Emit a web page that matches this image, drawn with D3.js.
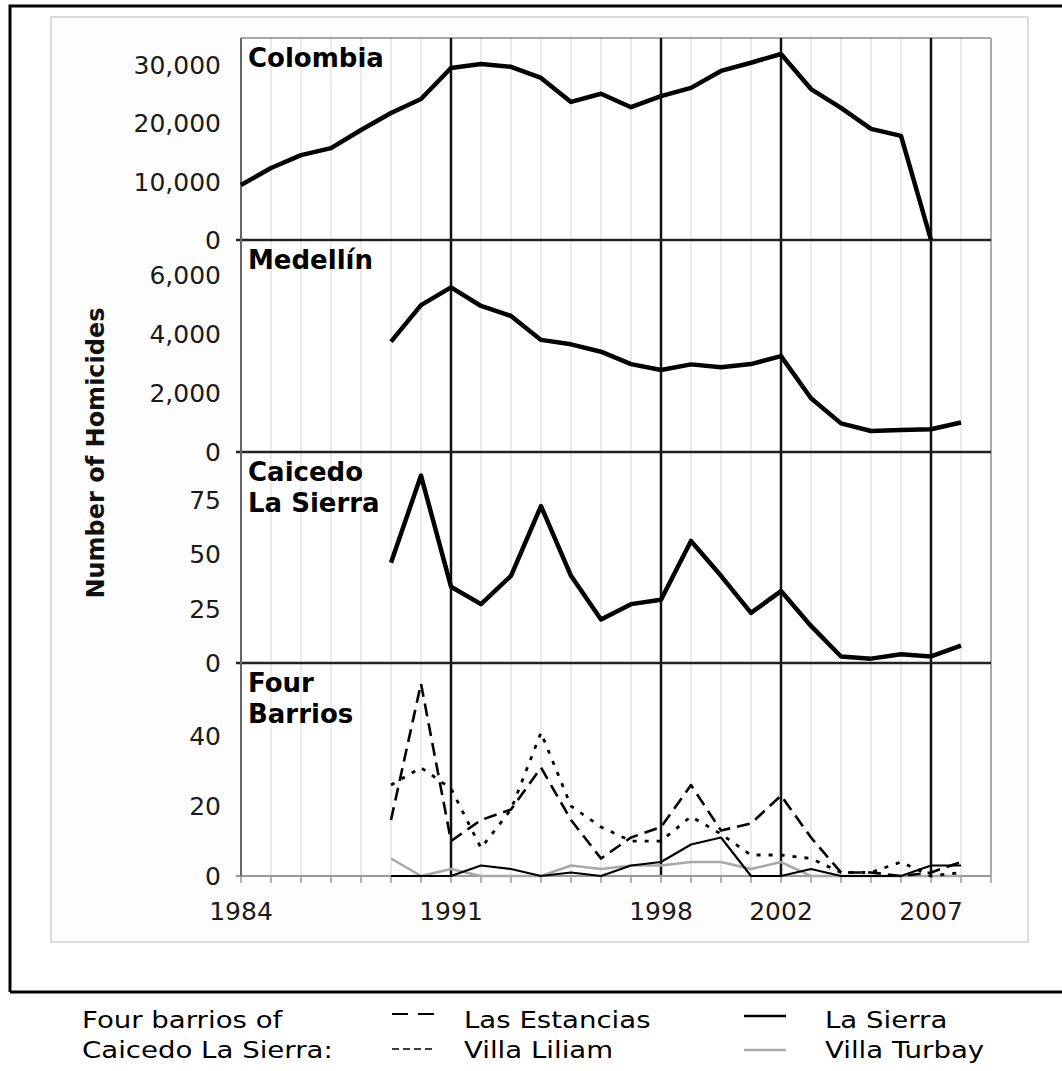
<!DOCTYPE html>
<html><head><meta charset="utf-8">
<script src="https://cdn.jsdelivr.net/npm/d3@7"></script>
<style>
html,body{margin:0;padding:0;background:#fff;}
svg{display:block;}
text{font-family:"DejaVu Sans",Verdana,sans-serif;}
</style></head>
<body>
<svg id="c" width="1062" height="1071"></svg>
<script>
// ---------- DATA ----------
const colombiaYears = [1984,1985,1986,1987,1988,1989,1990,1991,1992,1993,1994,1995,1996,1997,1998,1999,2000,2001,2002,2003,2004,2005,2006,2007];
const colombia = [9400,12300,14500,15700,18800,21700,24100,29400,30100,29600,27700,23600,25000,22700,24600,26000,28900,30300,31800,25800,22600,19000,17800,0];

const localYears = [1989,1990,1991,1992,1993,1994,1995,1996,1997,1998,1999,2000,2001,2002,2003,2004,2005,2006,2007,2008];
const medellin = [3740,4980,5580,4950,4610,3800,3650,3400,2980,2780,2970,2870,2980,3250,1820,970,710,745,770,1000];
const caicedo = [46,86,35,27,40,72,40,20,27,29,56,40,23,33,17,3,2,4,3,8];
const lasEstancias = [16,55,10,16,19,31,16,5,11,14,26,13,15,23,11,1,1,0,1,4];
const villaLiliam = [26,31,25,8,19,41,20,14,10,10,17,12,6,6,5,1,1,4,0,1];
const laSierra = [0,0,0,3,2,0,1,0,3,4,9,11,0,0,2,0,0,0,3,3];
const villaTurbay = [5,0,2,0,0,0,3,2,3,3,4,4,2,4,0,0,0,0,0,0];

const colombiaTicks = [0,10000,20000,30000];
const medellinTicks = [0,2000,4000,6000];
const caicedoTicks = [0,25,50,75];
const barriosTicks = [0,20,40];
const yearLabels = [1984,1991,1998,2002,2007];
const markerYears = [1991,1998,2002,2007];
const gridYears = [1985,1986,1987,1988,1989,1990,1992,1993,1994,1995,1996,1997,1999,2000,2001,2003,2004,2005,2006,2008];
const tickYears = [1984,1985,1986,1987,1988,1989,1990,1991,1992,1993,1994,1995,1996,1997,1998,1999,2000,2001,2002,2003,2004,2005,2006,2007,2008,2009];

// ---------- LAYOUT ----------
const svg = d3.select("#c");
const L = 241, R = 991, TOP = 38, BOT = 876;
const x = d3.scaleLinear().domain([1984, 2009]).range([L, R]);
const fmt = d3.format(",");

// outer frame
svg.append("rect").attr("x",0).attr("y",0).attr("width",1062).attr("height",1071).attr("fill","#fff");
svg.append("path").attr("d","M10,992 V6 H1062").attr("fill","none").attr("stroke","#000").attr("stroke-width",3);
svg.append("line").attr("x1",10).attr("x2",1062).attr("y1",992).attr("y2",992).attr("stroke","#000").attr("stroke-width",3);
// inner gray box
svg.append("rect").attr("x",51).attr("y",17).attr("width",977).attr("height",925)
  .attr("fill","#fdfdfd").attr("stroke","#cfcfcf").attr("stroke-width",1.5);
svg.append("rect").attr("x",L).attr("y",TOP).attr("width",R-L).attr("height",BOT-TOP).attr("fill","#fff");

// light vertical gridlines
svg.append("g").selectAll("line").data(gridYears).join("line")
  .attr("x1",d=>x(d)).attr("x2",d=>x(d)).attr("y1",TOP).attr("y2",BOT)
  .attr("stroke","#e4e4e4").attr("stroke-width",1.5);

const panels = [
  {title:["Colombia"], years:colombiaYears, values:colombia, max:34530, ticks:colombiaTicks, top:38, bottom:240},
  {title:["Medellín"], years:localYears, values:medellin, max:7186, ticks:medellinTicks, top:240, bottom:452},
  {title:["Caicedo","La Sierra"], years:localYears, values:caicedo, max:96.8, ticks:caicedoTicks, top:452, bottom:663},
  {title:["Four","Barrios"], years:localYears, values:null, max:60.9, ticks:barriosTicks, top:663, bottom:876}
];

// frame lines
svg.append("line").attr("x1",L).attr("x2",R).attr("y1",TOP).attr("y2",TOP).attr("stroke","#8a8a8a").attr("stroke-width",1.5);
svg.append("line").attr("x1",R).attr("x2",R).attr("y1",TOP).attr("y2",BOT).attr("stroke","#aaa").attr("stroke-width",2);

// black marker verticals
svg.append("g").selectAll("line").data(markerYears).join("line")
  .attr("x1",d=>x(d)).attr("x2",d=>x(d)).attr("y1",TOP).attr("y2",BOT)
  .attr("stroke","#111").attr("stroke-width",2.5);

// separators
[240,452,663].forEach(yy=>{
  svg.append("line").attr("x1",L-5).attr("x2",R).attr("y1",yy).attr("y2",yy).attr("stroke","#222").attr("stroke-width",2.5);
});
// bottom axis
svg.append("line").attr("x1",L-5).attr("x2",R).attr("y1",BOT).attr("y2",BOT).attr("stroke","#999").attr("stroke-width",2);
svg.append("g").selectAll("line").data(tickYears).join("line")
  .attr("x1",d=>x(d)).attr("x2",d=>x(d)).attr("y1",BOT).attr("y2",BOT+7)
  .attr("stroke","#999").attr("stroke-width",1.5);
// left axis
svg.append("line").attr("x1",L).attr("x2",L).attr("y1",TOP).attr("y2",BOT).attr("stroke","#666").attr("stroke-width",2);

panels.forEach((p,i)=>{
  const y = d3.scaleLinear().domain([0,p.max]).range([p.bottom,p.top]);
  p.y = y;
  // tick labels
  svg.append("g").selectAll("text").data(p.ticks).join("text")
    .attr("x",221).attr("y",d=>y(d)).attr("dy","0.36em")
    .attr("text-anchor","end").attr("font-size",25).attr("fill","#1a1a1a")
    .text(d=>fmt(d));
  // title
  const t = svg.append("text").attr("x",248).attr("y",p.top+29)
    .attr("font-size",26).attr("font-weight","bold").attr("fill","#000");
  p.title.forEach((s,k)=>t.append("tspan").attr("x",248).attr("dy",k?31:0).text(s));
  if (p.values) {
    const line = d3.line().x((d,j)=>x(p.years[j])).y(d=>y(d));
    svg.append("path").datum(p.values).attr("d",line)
      .attr("fill","none").attr("stroke","#000").attr("stroke-width",4.5)
      .attr("stroke-linejoin","round");
  }
});

// four barrios
const yb = panels[3].y;
const barrioSeries = [
  {name:"Villa Turbay", values:villaTurbay, color:"#a8a8a8", dash:null, w:2.5},
  {name:"La Sierra", values:laSierra, color:"#000", dash:null, w:2.2},
  {name:"Villa Liliam", values:villaLiliam, color:"#000", dash:"4,8", w:2.8},
  {name:"Las Estancias", values:lasEstancias, color:"#000", dash:"13,7", w:2.6}
];
const bline = d3.line().x((d,j)=>x(localYears[j])).y(d=>yb(d));
barrioSeries.forEach(s=>{
  svg.append("path").datum(s.values).attr("d",bline)
    .attr("fill","none").attr("stroke",s.color).attr("stroke-width",s.w)
    .attr("stroke-dasharray",s.dash).attr("stroke-linejoin","round");
});

// year labels
svg.append("g").selectAll("text").data(yearLabels).join("text")
  .attr("x",d=>x(d)).attr("y",911).attr("dy","0.36em").attr("text-anchor","middle")
  .attr("font-size",25).attr("fill","#1a1a1a").text(d=>d);

// y-axis title
svg.append("text").attr("transform","translate(104,453) rotate(-90)")
  .attr("text-anchor","middle").attr("font-size",24).attr("font-weight","bold").attr("fill","#111")
  .text("Number of Homicides");

// legend
const lg = svg.append("g").attr("font-size",23).attr("fill","#000");
function ltext(xx, yy, s){
  lg.append("text").attr("transform",`translate(${xx},${yy}) scale(1.2,1)`).text(s);
}
ltext(82,1028,"Four barrios of");
ltext(82,1058,"Caicedo La Sierra:");
ltext(464,1028,"Las Estancias");
ltext(464,1058,"Villa Liliam");
ltext(825,1028,"La Sierra");
ltext(825,1058,"Villa Turbay");
const keys = [
  {x1:392,x2:434,y:1014,color:"#000",dash:"16,10",w:2},
  {x1:392,x2:434,y:1049,color:"#000",dash:"7,4",w:1.5},
  {x1:744,x2:786,y:1016,color:"#000",dash:null,w:2.5},
  {x1:744,x2:786,y:1050,color:"#aaa",dash:null,w:2.5}
];
svg.append("g").selectAll("line").data(keys).join("line")
  .attr("x1",d=>d.x1).attr("x2",d=>d.x2).attr("y1",d=>d.y).attr("y2",d=>d.y)
  .attr("stroke",d=>d.color).attr("stroke-width",d=>d.w).attr("stroke-dasharray",d=>d.dash);
</script>
</body></html>
